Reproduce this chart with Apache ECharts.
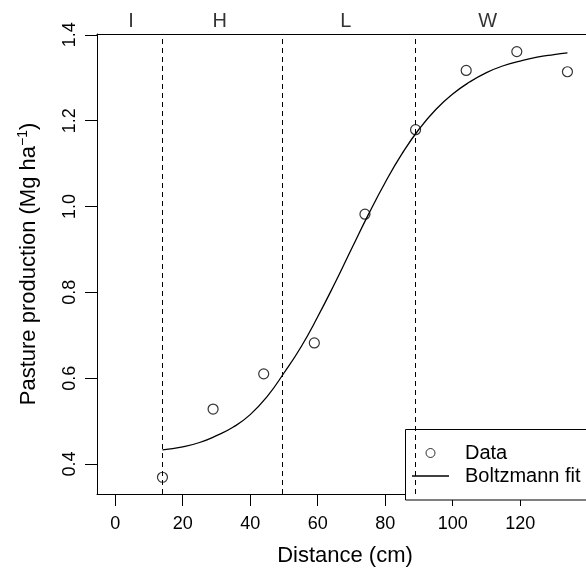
<!DOCTYPE html>
<html>
<head>
<meta charset="utf-8">
<script src="https://cdn.jsdelivr.net/npm/echarts@6/dist/echarts.min.js"></script>
<style>
html,body{margin:0;padding:0;background:#fff;}
#chart{width:586px;height:572px;}
</style>
</head>
<body>
<div id="chart"></div>
<script>
// Observed data
const distance = [14, 29, 44, 59, 74, 89, 104, 119, 134];
const production = [0.369, 0.528, 0.610, 0.682, 0.982, 1.179, 1.317, 1.361, 1.314];
// Boltzmann fit curve
const fitX = [14, 20, 25, 30, 35, 40, 45, 50, 55, 60, 65, 70, 75, 80, 85, 90, 95, 100, 105, 110, 115, 120, 125, 130, 134];
const fitY = [0.433, 0.440, 0.450, 0.466, 0.486, 0.515, 0.557, 0.612, 0.672, 0.743, 0.820, 0.901, 0.981, 1.056, 1.123, 1.180, 1.226, 1.262, 1.290, 1.312, 1.328, 1.339, 1.348, 1.354, 1.358];
// Zone boundaries and labels
const zoneBounds = [14, 49.6, 88.9];
const zoneLabels = ['I', 'H', 'L', 'W'];
const zoneLabelX = [4.65, 31.0, 68.3, 110.4];
// Tick labels
const xTicks = [0, 20, 40, 60, 80, 100, 120];
const yTicks = [0.4, 0.6, 0.8, 1.0, 1.2, 1.4];

const FONT = '"Liberation Sans", Arial, Helvetica, sans-serif';
const chart = echarts.init(document.getElementById('chart'), null, {renderer: 'canvas'});

const obs = distance.map((d, i) => [d, production[i]]);
const fit = fitX.map((d, i) => [d, fitY[i]]);
const zones = zoneLabels.map((l, i) => [zoneLabelX[i], 1.4, l]);

const X_MIN = -5.4, X_MAX = 139.5;

chart.setOption({
  animation: false,
  backgroundColor: '#fff',
  textStyle: {fontFamily: FONT, color: '#000'},
  grid: {
    left: 97, top: 34, right: 0, bottom: 72,
    show: false
  },
  xAxis: [{
    type: 'value', min: X_MIN, max: X_MAX, position: 'bottom',
    name: 'Distance (cm)', nameLocation: 'middle', nameGap: 51,
    nameTextStyle: {fontSize: 22, color: '#000', fontFamily: FONT, padding: [0, 0, 0, 7]},
    axisLine: {show: true, onZero: false, lineStyle: {color: '#000', width: 1}},
    splitLine: {show: false},
    axisTick: {show: true, inside: false, length: 12, customValues: xTicks, lineStyle: {color: '#000', width: 1}},
    axisLabel: {show: true, margin: 21, fontSize: 18, color: '#000', fontFamily: FONT, customValues: xTicks}
  }, {
    type: 'value', min: X_MIN, max: X_MAX, position: 'top',
    axisLine: {show: true, onZero: false, lineStyle: {color: '#000', width: 1}},
    splitLine: {show: false},
    axisTick: {show: false},
    axisLabel: {show: false}
  }],
  yAxis: {
    type: 'value', min: 0.33, max: 1.402,
    name: '{a|Pasture production (Mg ha}{s|−1}{a|)}', nameLocation: 'middle', nameGap: 55,
    nameTextStyle: {
      fontSize: 22, color: '#000', fontFamily: FONT,
      rich: {
        a: {fontSize: 22, lineHeight: 26, color: '#000', fontFamily: FONT},
        s: {fontSize: 14, lineHeight: 14, verticalAlign: 'top', color: '#000', fontFamily: FONT}
      }
    },
    axisLine: {show: true, onZero: false, lineStyle: {color: '#000', width: 1}},
    splitLine: {show: false},
    axisTick: {show: true, inside: false, length: 12, customValues: yTicks, lineStyle: {color: '#000', width: 1}},
    axisLabel: {
      show: true, margin: 18, fontSize: 18, rotate: 90, color: '#000', fontFamily: FONT,
      customValues: yTicks,
      formatter: v => v.toFixed(1)
    }
  },
  graphic: [{
    type: 'rect', z: 3, silent: true,
    shape: {x: 405.5, y: 429.5, width: 300, height: 70.5},
    style: {fill: '#fff', stroke: '#000', lineWidth: 1}
  }],
  legend: {
    show: true,
    orient: 'vertical',
    left: 405, top: 429,
    padding: [14, 0, 13, 7],
    itemWidth: 37, itemHeight: 9, itemGap: 3,
    backgroundColor: 'transparent', borderWidth: 0,
    z: 5,
    textStyle: {fontSize: 20, color: '#000', fontFamily: FONT, padding: [0, 0, 0, 11]},
    data: [
      {name: 'Data', icon: 'circle', itemStyle: {color: '#fff', borderColor: '#000', borderWidth: 1}},
      {name: 'Boltzmann fit', icon: 'path://M0,0L37,0L37,1.3L0,1.3Z', itemStyle: {color: '#000', borderWidth: 0}}
    ],
    selectedMode: false
  },
  series: [
    {
      name: 'Data', type: 'scatter', data: obs,
      symbol: 'circle', symbolSize: 10,
      itemStyle: {color: 'rgba(255,255,255,0)', borderColor: '#000', borderWidth: 1.2},
      z: 2,
      markLine: {
        silent: true, symbol: ['none', 'none'],
        label: {show: false},
        lineStyle: {type: [5, 4], color: '#000', width: 1},
        data: zoneBounds.map(v => ({xAxis: v}))
      }
    },
    {
      name: 'Boltzmann fit', type: 'line', data: fit,
      symbol: 'none', showSymbol: false, smooth: true,
      itemStyle: {color: '#000'},
      lineStyle: {color: '#000', width: 1.3}, z: 2
    },
    {
      name: 'zones', type: 'scatter', data: zones,
      symbolSize: 0, silent: true, clip: false,
      label: {
        show: true, position: 'top', distance: 3,
        formatter: p => p.value[2],
        fontSize: 20, color: '#000', fontFamily: FONT
      }
    }
  ]
});
</script>
</body>
</html>
